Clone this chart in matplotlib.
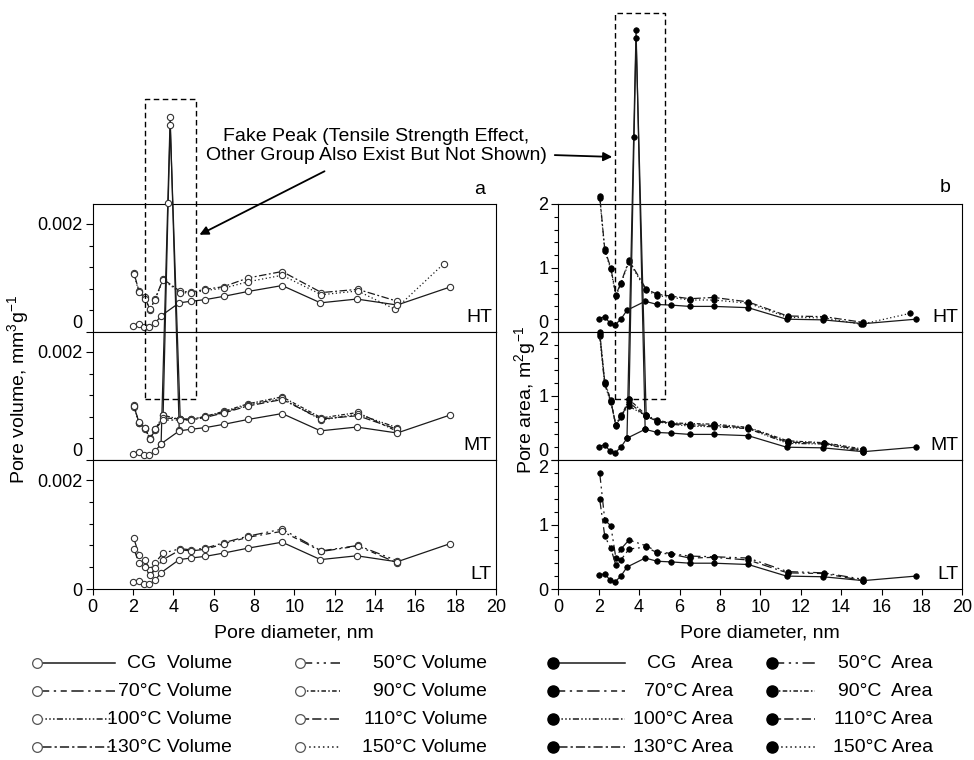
import numpy as np
import matplotlib
matplotlib.use('Agg')
import matplotlib.pyplot as plt
from matplotlib.lines import Line2D
from matplotlib.patches import Rectangle, FancyArrowPatch
from matplotlib.ticker import MultipleLocator

plt.rcParams['font.family'] = ['Liberation Sans', 'DejaVu Sans']
plt.rcParams['mathtext.fontset'] = 'custom'
plt.rcParams['mathtext.rm'] = 'Liberation Sans'
plt.rcParams['mathtext.it'] = 'Liberation Sans:italic'

# --- Data ---
cg_x = [2.0, 2.3, 2.55, 2.8, 3.1, 3.4, 4.3, 4.9, 5.6, 6.5, 7.7, 9.4, 11.3, 13.1, 15.1, 17.7]
cg_vol = [0.00012, 0.00015, 0.0001, 0.00009, 0.00016, 0.0003, 0.00054, 0.00057, 0.0006,
          0.00066, 0.00075, 0.00086, 0.00054, 0.00061, 0.0005, 0.00083]
cg_area = [0.21, 0.24, 0.14, 0.11, 0.2, 0.34, 0.48, 0.43, 0.42, 0.4, 0.4, 0.38, 0.2, 0.19, 0.13, 0.2]

trt_x = [2.05, 2.3, 2.6, 2.85, 3.1, 3.5, 4.35, 4.9, 5.6, 6.5, 7.7, 9.4, 11.35, 13.15, 15.1]
x_150 = [2.05, 2.3, 2.6, 2.85, 3.1, 3.5, 4.35, 4.9, 5.6, 6.5, 7.7, 9.4, 11.35, 13.15, 15.0, 17.4]

# LT group
vol_50 = [0.00093, 0.00063, 0.00054, 0.00035, 0.00048, 0.00066, 0.00074, 0.00072, 0.00075,
          0.00085, 0.00097, 0.0011, 0.0007, 0.0008, 0.00052]
vol_70 = [0.00074, 0.00048, 0.0004, 0.00025, 0.00038, 0.00054, 0.00072, 0.0007, 0.00073,
          0.00083, 0.00095, 0.00106, 0.00069, 0.00079, 0.00048]
area_50 = [1.8, 1.07, 0.98, 0.48, 0.62, 0.76, 0.67, 0.58, 0.55, 0.51, 0.5, 0.48, 0.27, 0.25, 0.15]
area_70 = [1.39, 0.82, 0.63, 0.37, 0.45, 0.62, 0.65, 0.56, 0.54, 0.48, 0.49, 0.45, 0.25, 0.24, 0.13]

# MT group
vol_90 = [0.00102, 0.00069, 0.0006, 0.00038, 0.00056, 0.00083, 0.00075, 0.00075,
          0.00081, 0.0009, 0.00104, 0.00117, 0.00078, 0.00088, 0.00053]
vol_100 = [0.00099, 0.00068, 0.00058, 0.0004, 0.00057, 0.00078, 0.00076, 0.00076,
           0.0008, 0.00088, 0.00102, 0.00114, 0.00074, 0.00085, 0.0006]
vol_110 = [0.001, 0.0007, 0.00059, 0.00039, 0.00057, 0.00074, 0.00074, 0.00074,
           0.00079, 0.00087, 0.001, 0.00112, 0.00076, 0.00082, 0.00057]
area_90 = [2.0, 1.22, 0.94, 0.53, 0.67, 0.95, 0.7, 0.62, 0.58, 0.57, 0.56, 0.51, 0.3, 0.27, 0.17]
area_100 = [1.93, 1.18, 0.9, 0.55, 0.7, 0.84, 0.69, 0.6, 0.56, 0.53, 0.52, 0.49, 0.26, 0.25, 0.13]
area_110 = [1.97, 1.2, 0.92, 0.54, 0.68, 0.9, 0.68, 0.61, 0.57, 0.55, 0.54, 0.5, 0.28, 0.26, 0.15]

# fake peak (other MT group, not in legend)
fake_a_x = [3.4, 3.85, 4.3]
fake_a_vol = [0.0003, 0.00635, 0.00055]
fake_a_area = [0.34, 6.72, 0.48]
fake_b_x = [3.5, 3.75, 3.85, 4.35]
fake_b_vol = [0.00083, 0.00476, 0.0062, 0.00075]
fake_b_area = [0.95, 5.05, 6.6, 0.7]

# HT group
vol_130 = [0.0011, 0.00076, 0.00064, 0.00041, 0.00061, 0.00098, 0.00075, 0.00074, 0.00079,
           0.00084, 0.001, 0.00112, 0.00073, 0.00079, 0.00057]
vol_150 = [0.00108, 0.00074, 0.00062, 0.00042, 0.0006, 0.00096, 0.00073, 0.00072, 0.00077,
           0.00081, 0.00093, 0.00105, 0.00069, 0.00076, 0.00042, 0.00126]
area_130 = [2.13, 1.29, 1.0, 0.58, 0.77, 1.12, 0.67, 0.59, 0.56, 0.52, 0.54, 0.47, 0.25, 0.24, 0.15]
area_150 = [2.1, 1.27, 0.98, 0.56, 0.75, 1.1, 0.65, 0.57, 0.54, 0.5, 0.5, 0.45, 0.23, 0.22, 0.12, 0.29]

groups = ['HT', 'MT', 'LT']
group_series = {
    'HT': [('130', trt_x, vol_130, area_130), ('150', x_150, vol_150, area_150)],
    'MT': [('CG', fake_a_x, fake_a_vol, fake_a_area), ('CG', fake_b_x, fake_b_vol, fake_b_area),
           ('90', trt_x, vol_90, area_90), ('100', trt_x, vol_100, area_100),
           ('110', trt_x, vol_110, area_110)],
    'LT': [('50', trt_x, vol_50, area_50), ('70', trt_x, vol_70, area_70)],
}

# --- Styles ---
LS = {
    'CG': '-',
    '50': (0, (8, 3, 1.5, 3, 1.5, 3)),
    '70': (0, (8, 3, 1.5, 3, 4, 3)),
    '90': (0, (3, 1.5, 1, 1.5)),
    '100': (0, (4, 1.5, 1, 1.5, 1, 1.5, 1, 1.5)),
    '110': (0, (6, 2, 6, 2, 1.5, 2)),
    '130': (0, (1.5, 2, 6, 2)),
    '150': (0, (1, 2)),
}
LC = '#1a1a1a'
LW = 0.9

W, H = 974, 760
fig = plt.figure(figsize=(W / 100, H / 100), dpi=100)


def fx(px):
    return px / W


def fy(py):
    return 1 - py / H


panel_px = {'HT': (204, 332), 'MT': (332, 460), 'LT': (460, 589)}
left_px = (92.5, 496)
right_px = (558.3, 962.3)


def draw(ax, x, y, ls, vol):
    if vol:
        ax.plot(x, y, ls=ls, color=LC, lw=LW, marker='o', ms=4.5, mfc='white',
                mec='#333333', mew=0.8, clip_on=False, zorder=3)
    else:
        ax.plot(x, y, ls=ls, color=LC, lw=LW, marker='o', ms=4, mfc='black',
                mec='black', mew=0.5, clip_on=False, zorder=3)


for col, vol in [(left_px, True), (right_px, False)]:
    for g in groups:
        top, bot = panel_px[g]
        ax = fig.add_axes([fx(col[0]), fy(bot), fx(col[1] - col[0]), (bot - top) / H])
        ax.set_xlim(0, 20)
        for name, xs, v, a in group_series[g]:
            draw(ax, xs, v if vol else a, LS[name], vol)
        draw(ax, cg_x, cg_vol if vol else cg_area, LS['CG'], vol)

        if vol:
            ax.set_ylim(0, 0.00237)
            ax.set_yticks([0, 0.002])
            ax.set_yticklabels(['0', '0.002'])
            ax.yaxis.set_minor_locator(MultipleLocator(0.0004))
        else:
            ax.set_ylim(0, 2)
            ax.set_yticks([0, 1, 2])
            ax.set_yticklabels(['0', '1', '2'])
            ax.yaxis.set_minor_locator(MultipleLocator(0.2))
        labs = ax.get_yticklabels()
        if g in ('HT', 'MT'):
            labs[0].set_va('bottom')
        if not vol and g in ('MT', 'LT'):
            labs[-1].set_va('top')

        ax.tick_params(axis='y', which='major', direction='out', length=5, width=0.8,
                       labelsize=13, pad=2)
        ax.tick_params(axis='y', which='minor', direction='out', length=3, width=0.8)
        if g == 'LT':
            ax.set_xticks(range(0, 21, 2))
            ax.tick_params(axis='x', direction='out', length=4, width=0.8, labelsize=13, pad=3)
            ax.set_xlabel('Pore diameter, nm', fontsize=14, labelpad=6)
        else:
            ax.tick_params(axis='x', bottom=False, labelbottom=False)
        for s in ax.spines.values():
            s.set_linewidth(0.8)
        ax.text(0.99, 0.11, g, transform=ax.transAxes, ha='right', va='center', fontsize=14)

# axis titles
fig.text(fx(18), fy(390), 'Pore volume, mm$^{3}$g$^{-1}$', rotation=90, ha='center',
         va='center', fontsize=14)
fig.text(fx(525), fy(400), 'Pore area, m$^{2}$g$^{-1}$', rotation=90, ha='center',
         va='center', fontsize=14)
fig.text(fx(480), fy(189), 'a', ha='center', va='center', fontsize=14)
fig.text(fx(945), fy(188), 'b', ha='center', va='center', fontsize=14)

# fake peak boxes and annotation
for x0, x1, y0, y1 in [(145, 195.7, 99.3, 399.3), (615.3, 665, 12.7, 399.3)]:
    fig.add_artist(Rectangle((fx(x0), fy(y1)), fx(x1 - x0), (y1 - y0) / H,
                             transform=fig.transFigure, fill=False, ec='black',
                             lw=1.0, ls=(0, (4, 2.5)), zorder=5))
fig.text(fx(376), fy(146), 'Fake Peak (Tensile Strength Effect,\nOther Group Also Exist But Not Shown)',
         ha='center', va='center', fontsize=14, linespacing=1.15)
for (xa, ya), (xb, yb) in [((327, 170), (197, 236)), ((552, 155), (615, 157))]:
    fig.add_artist(FancyArrowPatch((fx(xa), fy(ya)), (fx(xb), fy(yb)), transform=fig.transFigure,
                                   arrowstyle='-|>', mutation_scale=13, lw=1.3, color='black'))

# legend drawn by hand
rows_y = [663, 691, 719, 747]
cols = [
    (37, 115, 232, True, [('CG', 'CG  Volume'), ('70', '70°C Volume'),
                          ('100', '100°C Volume'), ('130', '130°C Volume')]),
    (300, 340, 487, True, [('50', '50°C Volume'), ('90', '90°C Volume'),
                           ('110', '110°C Volume'), ('150', '150°C Volume')]),
    (553, 625, 733, False, [('CG', 'CG   Area'), ('70', '70°C Area'),
                            ('100', '100°C Area'), ('130', '130°C Area')]),
    (772, 815, 933, False, [('50', '50°C  Area'), ('90', '90°C  Area'),
                            ('110', '110°C Area'), ('150', '150°C Area')]),
]
for xm, xe, xt, vol, entries in cols:
    for (key, label), yr in zip(entries, rows_y):
        if vol:
            mk = dict(marker='o', ms=7, mfc='white', mec='#555555', mew=0.9)
        else:
            mk = dict(marker='o', ms=8, mfc='black', mec='black')
        fig.add_artist(Line2D([fx(xm), fx(xe)], [fy(yr), fy(yr)], transform=fig.transFigure,
                              ls=LS[key], color=LC, lw=1.1, markevery=[0], **mk))
        fig.text(fx(xt), fy(yr), label, ha='right', va='center', fontsize=14)

fig.savefig('out.png', dpi=100)
